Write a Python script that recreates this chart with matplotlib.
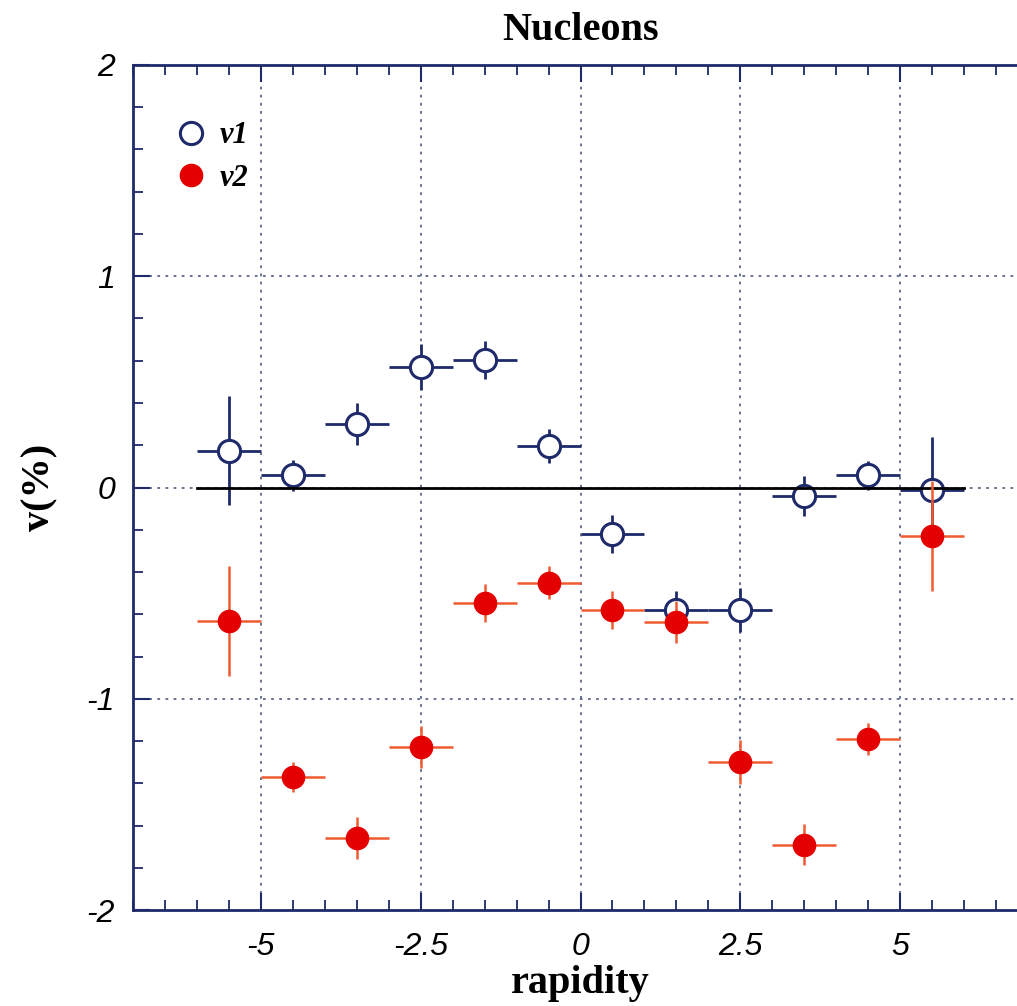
import numpy as np
import matplotlib
matplotlib.use('Agg')
import matplotlib.pyplot as plt
from matplotlib.lines import Line2D
from matplotlib.ticker import MultipleLocator

plt.rcParams['axes.unicode_minus'] = False

# rapidity bins (centre and half width)
rapidity = [-5.5, -4.5, -3.5, -2.5, -1.5, -0.5, 0.5, 1.5, 2.5, 3.5, 4.5, 5.5]
half_bin = 0.5

# v1 (open circles)
v1 = [0.175, 0.057, 0.30, 0.57, 0.605, 0.195, -0.22, -0.58, -0.58, -0.04, 0.057, -0.01]
v1_err = [0.26, 0.075, 0.10, 0.11, 0.09, 0.08, 0.09, 0.09, 0.105, 0.095, 0.07, 0.25]

# v2 (filled red circles)
v2 = [-0.63, -1.37, -1.66, -1.23, -0.545, -0.45, -0.58, -0.635, -1.30, -1.69, -1.19, -0.23]
v2_err = [0.26, 0.07, 0.10, 0.10, 0.09, 0.08, 0.09, 0.10, 0.105, 0.095, 0.075, 0.26]

xticks = [-5, -2.5, 0, 2.5, 5]
xtick_labels = ['-5', '-2.5', '0', '2.5', '5']
yticks = [-2, -1, 0, 1, 2]

navy = '#1e2a6a'
red_fill = '#e40000'
red_err = '#f05a30'
serif = 'Liberation Serif'
sans = 'Liberation Sans'

fig = plt.figure(figsize=(10.17, 10.06), dpi=100)
# axes run off the right edge, as in the scanned figure
ax = fig.add_axes([0.1308, 0.0954, 0.880, 0.840])

ax.set_xlim(-7, 7)
ax.set_ylim(-2, 2)

# grid
for xv in xticks:
    ax.axvline(xv, color='#5d6688', lw=1.3, ls=(0, (1.5, 3)), zorder=1)
for yv in [-1, 0, 1]:
    ax.axhline(yv, color='#5d6688', lw=1.3, ls=(0, (1.5, 3)), zorder=1)

# v1
ax.errorbar(rapidity, v1, xerr=half_bin, yerr=v1_err, fmt='o', ms=16,
            mfc='white', mec=navy, mew=2.2, ecolor=navy, elinewidth=2,
            capsize=0, zorder=3)

# zero line
ax.plot([-6, 6], [0, 0], color='black', lw=2, zorder=4)

# v2
ax.errorbar(rapidity, v2, xerr=half_bin, yerr=v2_err, fmt='o', ms=16,
            mfc=red_fill, mec=red_fill, mew=1, ecolor=red_err, elinewidth=1.8,
            capsize=0, zorder=5)

# ticks
ax.set_xticks(xticks)
ax.set_xticklabels(xtick_labels)
ax.set_yticks(yticks)
ax.xaxis.set_minor_locator(MultipleLocator(0.5))
ax.yaxis.set_minor_locator(MultipleLocator(0.2))
ax.tick_params(which='both', direction='in', top=True, right=False, color=navy)
ax.tick_params(which='major', length=12, width=1.5)
ax.tick_params(which='minor', length=7, width=1.3)
ax.tick_params(axis='x', which='major', pad=16)
ax.tick_params(axis='y', which='major', pad=13)
for lab in ax.get_xticklabels() + ax.get_yticklabels():
    lab.set_fontfamily(sans)
    lab.set_fontstyle('italic')
    lab.set_fontsize(23)

for sp in ax.spines.values():
    sp.set_color(navy)
    sp.set_linewidth(2)
ax.spines['right'].set_visible(False)

ax.set_title('Nucleons', fontfamily=serif, fontweight='bold', fontsize=29, pad=18)
ax.set_xlabel('rapidity', fontfamily=serif, fontweight='bold', fontsize=29, labelpad=2)
ax.set_ylabel('v(%)', fontfamily=serif, fontweight='bold', fontsize=29, labelpad=20)

handles = [
    Line2D([], [], ls='none', marker='o', ms=16, mfc='white', mec=navy, mew=2.2),
    Line2D([], [], ls='none', marker='o', ms=16, mfc=red_fill, mec=red_fill),
]
ax.legend(handles, ['v1', 'v2'], loc='upper left', bbox_to_anchor=(0.017, 0.966),
          frameon=False, handlelength=1.0, handletextpad=0.45, labelspacing=0.45,
          prop={'family': serif, 'weight': 'bold', 'style': 'italic', 'size': 22})

fig.savefig('out.png', dpi=100)
